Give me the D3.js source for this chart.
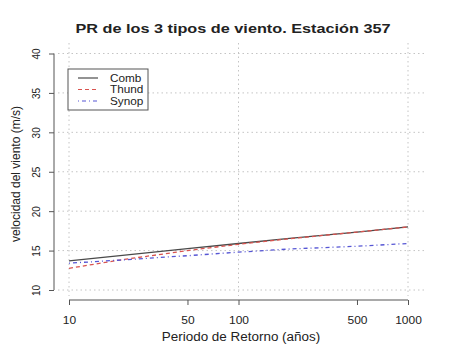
<!DOCTYPE html>
<html>
<head>
<meta charset="utf-8">
<script src="https://cdn.jsdelivr.net/npm/d3@7"></script>
<style>
  body { margin: 0; background: #fff; }
  text { font-family: "Liberation Sans", Arial, sans-serif; fill: #222; }
</style>
</head>
<body>
<div id="chart"></div>
<script>
// return periods (years) and wind speed (m/s)
const periods = [10, 20, 50, 100, 200, 500, 1000];
const comb  = [13.7, 14.35, 15.25, 15.9, 16.55, 17.35, 18.0];
const thund = [12.75, 13.8, 15.0, 15.8, 16.5, 17.35, 18.0];
const synop = [13.4, 13.8, 14.35, 14.8, 15.2, 15.55, 15.9];

const xTicks = [10, 50, 100, 500, 1000];
const xGrid = [10, 100, 1000];
const yTicks = [10, 15, 20, 25, 30, 35, 40];
const seriesNames = ["Comb", "Thund", "Synop"];

const width = 450, height = 354;

const svg = d3.select("#chart").append("svg")
    .attr("width", width)
    .attr("height", height);

// the source png is a bit wider than tall, so text gets stretched sideways
function widen(sel, k) {
    sel.each(function() {
        const w = this.getComputedTextLength();
        d3.select(this).attr("textLength", w * k).attr("lengthAdjust", "spacingAndGlyphs");
    });
}

// plot region, data range padded 4% like R
const x = d3.scaleLog().domain([10, 1000]).range([69, 408]);
const y = d3.scaleLinear().domain([10, 40]).range([290, 53.5]);
const plotL = 54, plotR = 425, plotT = 43, plotB = 300;

// grid
svg.append("g").selectAll("line")
    .data(yTicks)
    .join("line")
    .attr("x1", plotL + 4).attr("x2", plotR)
    .attr("y1", d => y(d)).attr("y2", d => y(d))
    .attr("stroke", "#c4c4c4")
    .attr("stroke-dasharray", "1.5,3");

svg.append("g").selectAll("line")
    .data(xGrid)
    .join("line")
    .attr("x1", d => x(d)).attr("x2", d => x(d))
    .attr("y1", plotT).attr("y2", plotB - 4)
    .attr("stroke", "#c4c4c4")
    .attr("stroke-dasharray", "1.5,3");

// axes
const xAxis = svg.append("g")
    .attr("transform", `translate(0,${plotB})`)
    .call(d3.axisBottom(x).tickValues(xTicks).tickFormat(d3.format("d")).tickSize(5).tickSizeOuter(0));
xAxis.selectAll(".tick text").attr("dy", "1.45em").style("font-size", "11px");

const yAxis = svg.append("g")
    .attr("transform", `translate(${plotL},0)`)
    .call(d3.axisLeft(y).tickValues(yTicks).tickSize(5).tickSizeOuter(0));
yAxis.selectAll(".tick text")
    .attr("transform", "translate(-18,0) rotate(-90)")
    .attr("x", 0).attr("y", 0).attr("dy", "0.35em")
    .attr("text-anchor", "middle")
    .style("font-size", "10px");

svg.selectAll(".domain, .tick line").attr("stroke", "#555");
xAxis.select(".domain").attr("d", `M${x(10)},0H${x(1000)}`);
yAxis.select(".domain").attr("d", `M0,${y(10)}V${y(40)}`);
svg.selectAll(".tick text").style("font-family", "\"Liberation Sans\", Arial, sans-serif").attr("fill", "#222");
widen(xAxis.selectAll(".tick text"), 1.09);

// lines
const line = d3.line()
    .x((d, i) => x(periods[i]))
    .y(d => y(d));

const styles = [
    { data: comb,  color: "#4a4a4a", dash: null },
    { data: thund, color: "#d9534f", dash: "4,3" },
    { data: synop, color: "#5656d4", dash: "1,3,4,3" }
];

svg.append("g").selectAll("path")
    .data(styles)
    .join("path")
    .attr("d", d => line(d.data))
    .attr("fill", "none")
    .attr("stroke", d => d.color)
    .attr("stroke-width", 1.3)
    .attr("stroke-dasharray", d => d.dash);

// title
const title = svg.append("text")
    .attr("x", 233).attr("y", 33)
    .attr("text-anchor", "middle")
    .style("font-size", "12.5px")
    .style("font-weight", "bold")
    .text("PR de los 3 tipos de viento. Estación 357");
widen(title, 1.3);

const xTitle = svg.append("text")
    .attr("x", 241).attr("y", 341)
    .attr("text-anchor", "middle")
    .style("font-size", "12px")
    .text("Periodo de Retorno (años)");
widen(xTitle, 1.12);

svg.append("text")
    .attr("transform", "translate(20,174) rotate(-90)")
    .attr("text-anchor", "middle")
    .style("font-size", "12px")
    .text("velocidad del viento (m/s)");

// legend
const legend = svg.append("g");
legend.append("rect")
    .attr("x", 68).attr("y", 69)
    .attr("width", 80).attr("height", 41)
    .attr("fill", "#fff")
    .attr("stroke", "#555");

const items = legend.selectAll("g")
    .data(styles)
    .join("g")
    .attr("transform", (d, i) => `translate(0,${78 + i * 11.5})`);

items.append("line")
    .attr("x1", 78).attr("x2", 98)
    .attr("stroke", d => d.color)
    .attr("stroke-width", 1.2)
    .attr("stroke-dasharray", d => d.dash);

const legendText = items.append("text")
    .attr("x", 110).attr("dy", "0.35em")
    .style("font-size", "10.5px")
    .text((d, i) => seriesNames[i]);
widen(legendText, 1.12);
</script>
</body>
</html>
